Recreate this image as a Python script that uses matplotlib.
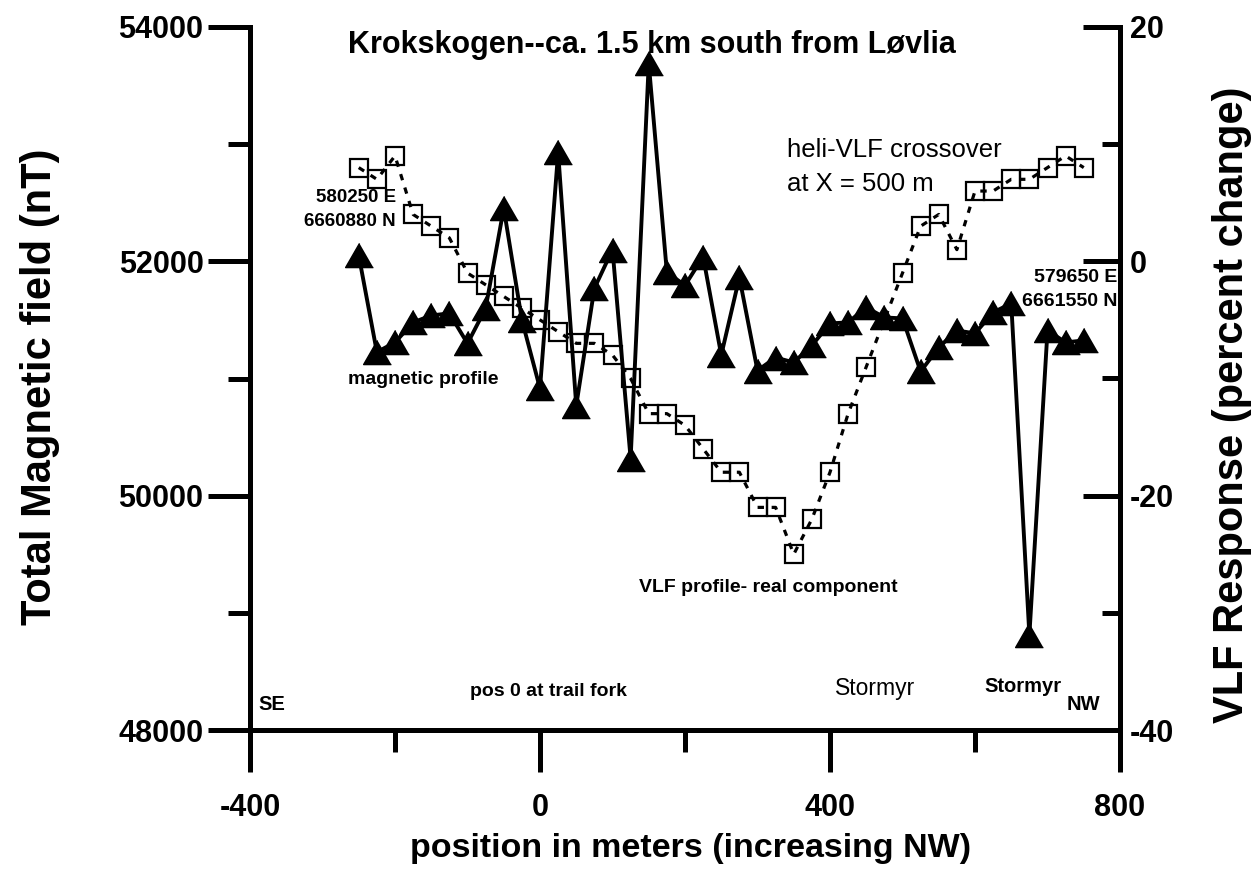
import matplotlib
matplotlib.use("Agg")
import matplotlib.pyplot as plt
from matplotlib.ticker import FixedLocator

plt.rcParams['font.family'] = ['Liberation Sans', 'DejaVu Sans']

# ---------------- data ----------------
mag_x = [-250, -225, -200, -175, -150, -125, -100, -75, -50, -25,
         0, 25, 50, 75, 100, 125, 150, 175, 200, 225,
         250, 275, 300, 325, 350, 375, 400, 425, 450, 475,
         500, 525, 550, 575, 600, 625, 650, 675, 700, 725, 750]
mag_nT = [52050, 51225, 51308, 51479, 51538, 51556, 51299, 51598, 52453, 51500,
          50915, 52930, 50769, 51769, 52100, 50316, 53690, 51906, 51795, 52040,
          51200, 51863, 51068, 51179, 51137, 51282, 51470, 51479, 51607, 51521,
          51513, 51060, 51265, 51410, 51385, 51564, 51641, 48810, 51410, 51308, 51325]

vlf_x = [-250, -225, -200, -175, -150, -125, -100, -75, -50, -25,
         0, 25, 50, 75, 100, 125, 150, 175, 200, 225,
         250, 275, 300, 325, 350, 375, 400, 425, 450,
         500, 525, 550, 575, 600, 625, 650, 675, 700, 725, 750]
vlf_pct = [8, 7, 9, 4, 3, 2, -1, -2, -3, -4,
           -5, -6, -7, -7, -8, -10, -13, -13, -14, -16,
           -18, -18, -21, -21, -25, -22, -18, -13, -9,
           -1, 3, 4, 1, 6, 6, 7, 7, 8, 9, 8]

x_major = [-400, 0, 400, 800]
x_minor = [-200, 200, 600]
left_major = [48000, 50000, 52000, 54000]
left_minor = [49000, 51000, 53000]
right_major = [-40, -20, 0, 20]
right_minor = [-30, -10, 10]

title = "Krokskogen--ca. 1.5 km south from Løvlia"

# ---------------- figure ----------------
fig = plt.figure(figsize=(12.6, 8.75), dpi=100)
ax = fig.add_axes([250/1260, 1-730/875, 870/1260, 703/875])
ax2 = ax.twinx()

spine_lw = 3.6
tri = [(0, 1), (-1.15, -1), (1.15, -1)]

ax.plot(mag_x, mag_nT, color='black', lw=2.8, marker=tri, markersize=20,
        markerfacecolor='black', markeredgecolor='black', zorder=3)
ax2.plot(vlf_x, vlf_pct, color='black', lw=2.3, linestyle=(0, (2.0, 2.4)),
         marker='s', markersize=12.5, markerfacecolor='none',
         markeredgecolor='black', markeredgewidth=1.6, zorder=4)

ax.set_xlim(-400, 800)
ax.set_ylim(48000, 54000)
ax2.set_ylim(-40, 20)

# spines
for s in ['top', 'right']:
    ax.spines[s].set_visible(False)
for s in ['top', 'left', 'bottom']:
    ax2.spines[s].set_visible(False)
ax.spines['left'].set_linewidth(spine_lw)
ax.spines['bottom'].set_linewidth(spine_lw)
ax2.spines['right'].set_linewidth(spine_lw)
for sp in (ax.spines['left'], ax.spines['bottom'], ax2.spines['right']):
    sp.set_capstyle('projecting')

# ticks
ax.xaxis.set_major_locator(FixedLocator(x_major))
ax.xaxis.set_minor_locator(FixedLocator(x_minor))
ax.yaxis.set_major_locator(FixedLocator(left_major))
ax.yaxis.set_minor_locator(FixedLocator(left_minor))
ax2.yaxis.set_major_locator(FixedLocator(right_major))
ax2.yaxis.set_minor_locator(FixedLocator(right_minor))
ax.set_xticklabels([str(v) for v in x_major])
ax.set_yticklabels([str(v) for v in left_major])
ax2.set_yticklabels([str(v) for v in right_major])

ax.tick_params(axis='x', which='major', direction='out', length=30, width=3.6, pad=15,
               labelsize=22)
ax.tick_params(axis='x', which='minor', direction='out', length=16, width=3.6)
ax.tick_params(axis='y', which='major', direction='out', length=30, width=3.6, pad=3.5,
               labelsize=22)
ax.tick_params(axis='y', which='minor', direction='out', length=16, width=3.6)
ax2.tick_params(axis='y', which='major', direction='in', length=27, width=3.6, pad=7,
                labelsize=22)
ax2.tick_params(axis='y', which='minor', direction='in', length=13, width=3.6)
for lbl in ax.get_xticklabels() + ax.get_yticklabels() + ax2.get_yticklabels():
    lbl.set_fontweight('bold')

# axis labels
ax.set_xlabel("position in meters (increasing NW)", fontsize=24.5, fontweight='bold',
              va='center')
ax.xaxis.set_label_coords((691-250)/870, (730-848)/703)
ax.set_ylabel("Total Magnetic field (nT)", fontsize=30, fontweight='bold',
              va='center', ha='center')
ax.yaxis.set_label_coords((40-250)/870, (730-387)/703)
ax2.set_ylabel("VLF Response (percent change)", fontsize=30, fontweight='bold',
               rotation=90, va='center', ha='center')
ax2.yaxis.set_label_coords((1232-250)/870, (730-405)/703)

# texts (positions in axes fraction computed from pixel positions)
def fx(px):
    return (px - 250) / 870

def fy(py):
    return (730 - py) / 703

tk = dict(transform=ax.transAxes, fontweight='bold')
ax.text(fx(652), fy(45), title, fontsize=22, ha='center', va='center', **tk)
ax.text(fx(396), fy(198), "580250 E", fontsize=13.5, ha='right', va='center', **tk)
ax.text(fx(396), fy(222), "6660880 N", fontsize=13.5, ha='right', va='center', **tk)
ax.text(fx(423), fy(380), "magnetic profile", fontsize=14, ha='center', va='center', **tk)
ax.text(fx(1117), fy(278), "579650 E", fontsize=14, ha='right', va='center', **tk)
ax.text(fx(1117), fy(301), "6661550 N", fontsize=14, ha='right', va='center', **tk)
ax.text(fx(768), fy(588), "VLF profile- real component", fontsize=14, ha='center',
        va='center', **tk)
ax.text(fx(1023), fy(686), "Stormyr", fontsize=14.5, ha='center', va='center', **tk)
ax.text(fx(258), fy(705), "SE", fontsize=14.5, ha='left', va='center', **tk)
ax.text(fx(548), fy(692), "pos 0 at trail fork", fontsize=14, ha='center', va='center', **tk)
ax.text(fx(1100), fy(704), "NW", fontsize=14.5, ha='right', va='center', **tk)

tr = dict(transform=ax.transAxes, fontweight='normal')
ax.text(fx(787), fy(150), "heli-VLF crossover", fontsize=18.5, ha='left', va='center', **tr)
ax.text(fx(787), fy(184), "at X = 500 m", fontsize=18.5, ha='left', va='center', **tr)
ax.text(fx(875), fy(688), "Stormyr", fontsize=16.5, ha='center', va='center', **tr)

fig.savefig("out.png", dpi=100)
